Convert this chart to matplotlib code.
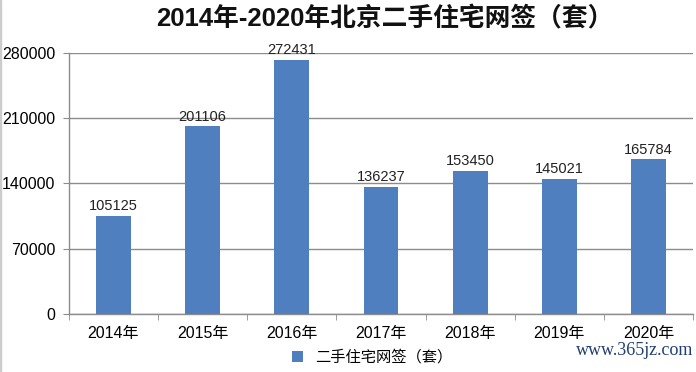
import numpy as np
import matplotlib
matplotlib.use("Agg")
import matplotlib.pyplot as plt
from matplotlib.patches import Rectangle

plt.rcParams['font.family'] = ['Liberation Sans', 'Noto Sans CJK SC', 'DejaVu Sans']

# 数据
years = ['2014年', '2015年', '2016年', '2017年', '2018年', '2019年', '2020年']
deals = [105125, 201106, 272431, 136237, 153450, 145021, 165784]
yticks = [0, 70000, 140000, 210000, 280000]
title = '2014年-2020年北京二手住宅网签（套）'
series_name = '二手住宅网签（套）'

bar_color = '#4F7FBE'
grid_color = '#8C8C8C'

fig = plt.figure(figsize=(6.96, 3.72), dpi=100)
ax = fig.add_axes([0.099, 0.156, 0.897, 0.702])

x = np.arange(len(years))
bars = ax.bar(x, deals, width=0.39, color=bar_color, zorder=3, label=series_name)

for xi, v in zip(x, deals):
    ax.text(xi, v + 3000, str(v), ha='center', va='bottom', fontsize=10.5, color='#222222', zorder=4)

ax.set_xlim(-0.5, len(years) - 0.5)
ax.set_ylim(0, 280000)
ax.set_yticks(yticks)
ax.set_yticklabels([str(t) for t in yticks], fontsize=11.5)
ax.yaxis.grid(True, color=grid_color, linewidth=1, zorder=0)

# 分类刻度放在分界处
ax.set_xticks(x)
ax.set_xticklabels(years, fontsize=11.5)
ax.tick_params(axis='x', length=0, pad=9)
ax.set_xticks(np.arange(-0.5, len(years) + 0.5, 1), minor=True)
ax.tick_params(axis='x', which='minor', length=4, color=grid_color, direction='out')
ax.tick_params(axis='y', length=4, color=grid_color, direction='out', pad=6)

for s in ['top', 'right']:
    ax.spines[s].set_visible(False)
ax.spines['left'].set_color(grid_color)
ax.spines['bottom'].set_color(grid_color)
ax.spines['left'].set_linewidth(1)
ax.spines['bottom'].set_linewidth(1)

fig.text(0.553, 0.948, title, ha='center', va='center', fontsize=18.5, fontweight='bold', color='#111111')

leg = fig.legend(handles=[bars], labels=[series_name], loc='center', bbox_to_anchor=(0.535, 0.04),
                 frameon=False, fontsize=11, handlelength=0.7, handleheight=0.7, handletextpad=0.8)

fig.text(0.996, 0.057, 'www.365jz.com', ha='right', va='center', fontsize=13,
         family='Liberation Serif', color='#1F3F73')

# 左侧细边框
fig.add_artist(Rectangle((0, 0), 0.002, 1, transform=fig.transFigure, color='#CCCCCC'))

fig.savefig('out.png', dpi=100)
